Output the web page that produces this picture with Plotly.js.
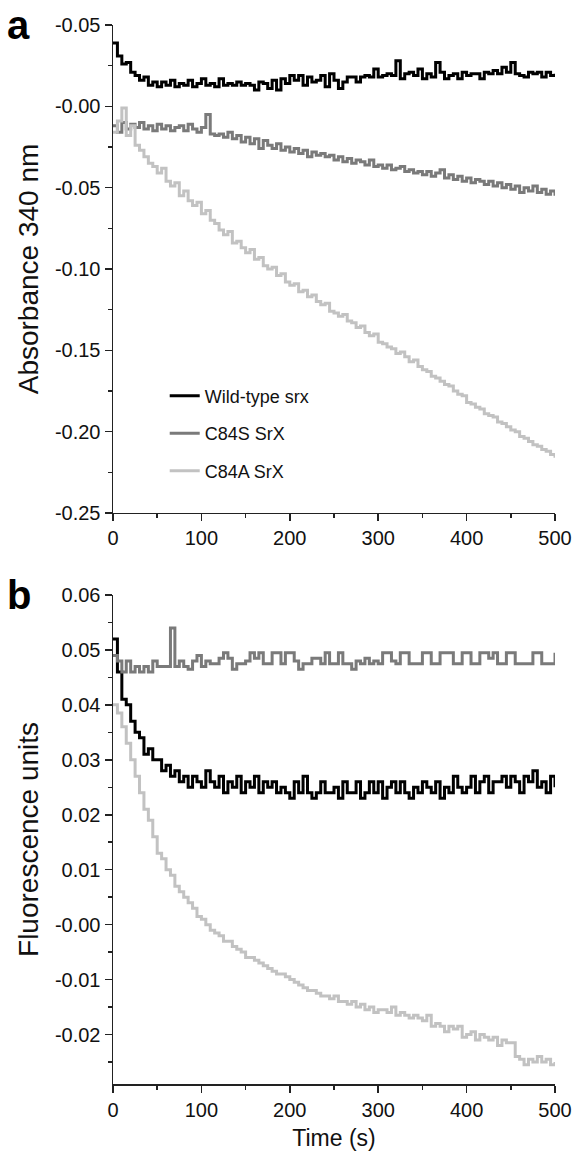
<!DOCTYPE html>
<html>
<head>
<meta charset="utf-8">
<script src="https://cdn.plot.ly/plotly-3.0.1.min.js"></script>
<style>
html,body{margin:0;padding:0;background:#fff;}
#chart{width:574px;height:1157px;}
</style>
</head>
<body>
<div id="chart"></div>
<script>
// Time (s)
const time = [0,5,10,15,20,25,30,35,40,45,50,55,60,65,70,75,80,85,90,95,
100,105,110,115,120,125,130,135,140,145,150,155,160,165,170,175,180,185,190,195,
200,205,210,215,220,225,230,235,240,245,250,255,260,265,270,275,280,285,290,295,
300,305,310,315,320,325,330,335,340,345,350,355,360,365,370,375,380,385,390,395,
400,405,410,415,420,425,430,435,440,445,450,455,460,465,470,475,480,485,490,495,500];

const seriesNames = ["Wild-type srx", "C84S SrX", "C84A SrX"];

// Panel a: Absorbance 340 nm
const wtA = [0.039,0.031,0.026,0.027,0.021,0.019,0.016,0.018,0.013,0.015,
0.012,0.015,0.013,0.016,0.012,0.014,0.013,0.016,0.012,0.014,
0.017,0.013,0.014,0.012,0.017,0.013,0.014,0.013,0.015,0.013,
0.014,0.013,0.010,0.015,0.014,0.011,0.016,0.010,0.017,0.014,
0.019,0.016,0.019,0.013,0.018,0.015,0.016,0.019,0.012,0.020,
0.016,0.011,0.015,0.018,0.018,0.015,0.018,0.019,0.018,0.023,
0.018,0.019,0.020,0.019,0.028,0.017,0.020,0.021,0.019,0.023,
0.017,0.020,0.018,0.027,0.021,0.017,0.019,0.020,0.017,0.021,
0.019,0.020,0.020,0.017,0.021,0.020,0.022,0.020,0.024,0.021,
0.027,0.020,0.019,0.018,0.021,0.020,0.021,0.018,0.021,0.019,0.020];

const c84sA = [-0.012,-0.016,-0.010,-0.014,-0.011,-0.013,-0.010,-0.014,-0.012,-0.015,
-0.011,-0.014,-0.012,-0.015,-0.013,-0.012,-0.015,-0.011,-0.014,-0.016,
-0.013,-0.005,-0.017,-0.018,-0.017,-0.019,-0.016,-0.020,-0.018,-0.022,
-0.019,-0.023,-0.020,-0.026,-0.021,-0.024,-0.026,-0.023,-0.027,-0.025,
-0.028,-0.026,-0.029,-0.027,-0.031,-0.028,-0.030,-0.029,-0.031,-0.030,
-0.033,-0.031,-0.034,-0.032,-0.035,-0.033,-0.034,-0.036,-0.033,-0.037,
-0.036,-0.038,-0.036,-0.039,-0.038,-0.037,-0.040,-0.039,-0.041,-0.040,
-0.042,-0.040,-0.043,-0.041,-0.039,-0.044,-0.042,-0.045,-0.043,-0.046,
-0.044,-0.047,-0.045,-0.046,-0.048,-0.046,-0.049,-0.047,-0.050,-0.048,
-0.051,-0.049,-0.053,-0.050,-0.052,-0.049,-0.053,-0.051,-0.054,-0.052,-0.055];

const c84aA = [-0.016,-0.009,-0.001,-0.018,-0.012,-0.024,-0.027,-0.031,-0.035,-0.037,
-0.041,-0.038,-0.046,-0.049,-0.047,-0.055,-0.052,-0.058,-0.061,-0.059,
-0.066,-0.064,-0.070,-0.072,-0.076,-0.079,-0.077,-0.084,-0.083,-0.087,
-0.090,-0.088,-0.094,-0.093,-0.098,-0.100,-0.099,-0.104,-0.103,-0.108,
-0.110,-0.109,-0.114,-0.113,-0.117,-0.116,-0.120,-0.122,-0.121,-0.126,
-0.127,-0.129,-0.128,-0.132,-0.133,-0.136,-0.135,-0.139,-0.141,-0.140,
-0.145,-0.146,-0.148,-0.149,-0.152,-0.151,-0.154,-0.157,-0.156,-0.160,
-0.162,-0.163,-0.166,-0.167,-0.169,-0.171,-0.172,-0.175,-0.177,-0.178,
-0.182,-0.183,-0.185,-0.186,-0.189,-0.190,-0.191,-0.194,-0.195,-0.197,
-0.199,-0.200,-0.203,-0.204,-0.206,-0.208,-0.209,-0.211,-0.212,-0.214,-0.216];

// Panel b: Fluorescence units
const wtB = [0.052,0.046,0.041,0.040,0.037,0.035,0.034,0.031,0.032,0.030,
0.030,0.028,0.029,0.027,0.028,0.026,0.027,0.025,0.027,0.026,
0.025,0.028,0.026,0.025,0.027,0.024,0.026,0.025,0.027,0.024,
0.026,0.025,0.027,0.024,0.026,0.025,0.026,0.024,0.025,0.024,
0.023,0.026,0.024,0.027,0.024,0.023,0.024,0.026,0.024,0.024,
0.025,0.023,0.026,0.024,0.024,0.026,0.023,0.024,0.026,0.024,
0.026,0.023,0.025,0.026,0.024,0.026,0.024,0.023,0.025,0.024,
0.026,0.025,0.024,0.026,0.023,0.025,0.024,0.027,0.025,0.024,
0.025,0.027,0.024,0.026,0.027,0.024,0.026,0.026,0.027,0.025,
0.027,0.026,0.024,0.027,0.026,0.028,0.025,0.026,0.024,0.027,0.025];

const c84sB = [0.049,0.048,0.046,0.048,0.046,0.047,0.046,0.047,0.046,0.048,
0.047,0.047,0.047,0.054,0.047,0.048,0.047,0.0465,0.048,0.049,
0.047,0.048,0.0475,0.0475,0.0485,0.0495,0.0485,0.0465,0.0475,0.0475,
0.048,0.0495,0.0485,0.0495,0.0475,0.0475,0.0495,0.0495,0.0475,0.0495,
0.0495,0.048,0.0465,0.0475,0.0475,0.0485,0.0485,0.0475,0.0495,0.0475,
0.0475,0.0495,0.0475,0.0475,0.0465,0.048,0.0475,0.0485,0.0475,0.048,
0.0475,0.0495,0.0495,0.048,0.0475,0.0495,0.0495,0.0475,0.0475,0.0475,
0.0495,0.0495,0.0475,0.0475,0.0495,0.0495,0.0495,0.0475,0.0475,0.0495,
0.0495,0.0475,0.0475,0.0495,0.0495,0.0485,0.0495,0.0475,0.0475,0.0495,
0.0495,0.0475,0.0475,0.0475,0.0475,0.0495,0.0495,0.0475,0.0475,0.0475,0.0495];

const c84aB = [0.040,0.0385,0.036,0.033,0.030,0.027,0.024,0.021,0.019,0.016,
0.013,0.012,0.010,0.009,0.007,0.006,0.005,0.004,0.003,0.0015,
0.001,0.000,-0.001,-0.0015,-0.002,-0.003,-0.003,-0.004,-0.0045,-0.005,
-0.006,-0.006,-0.0065,-0.007,-0.0075,-0.008,-0.0085,-0.009,-0.009,-0.0095,
-0.010,-0.0105,-0.011,-0.0115,-0.012,-0.012,-0.0125,-0.013,-0.013,-0.0135,
-0.013,-0.014,-0.014,-0.0145,-0.014,-0.015,-0.0145,-0.0155,-0.015,-0.016,
-0.0155,-0.0155,-0.016,-0.015,-0.0165,-0.016,-0.0165,-0.017,-0.0165,-0.017,
-0.0175,-0.0165,-0.0185,-0.018,-0.0185,-0.0195,-0.0185,-0.019,-0.0185,-0.0205,
-0.020,-0.0195,-0.021,-0.020,-0.0205,-0.021,-0.0205,-0.022,-0.021,-0.0215,
-0.0215,-0.024,-0.0245,-0.0255,-0.0245,-0.025,-0.024,-0.025,-0.0245,-0.0255,-0.025];

// Tick labels
const xTickVals = [0,100,200,300,400,500];
const yTickValsA = [0.05,0,-0.05,-0.10,-0.15,-0.20,-0.25];
const yTickTextA = ["-0.05","-0.00","-0.05","-0.10","-0.15","-0.20","-0.25"];
const yTickValsB = [0.06,0.05,0.04,0.03,0.02,0.01,0,-0.01,-0.02];
const yTickTextB = ["0.06","0.05","0.04","0.03","0.02","0.01","-0.00","-0.01","-0.02"];

const colors = ["#000000","#7a7a7a","#c2c2c2"];
const FONT = "Liberation Sans, Arial, Helvetica, sans-serif";

const dataA = [wtA, c84sA, c84aA];
const dataB = [wtB, c84sB, c84aB];
const traces = [];
dataA.forEach((ys, i) => {
  traces.push({
    x: time, y: ys, type: "scatter", mode: "lines",
    name: seriesNames[i], legendgroup: "g" + i,
    line: {color: colors[i], width: 3, shape: "hv"},
    xaxis: "x", yaxis: "y", showlegend: true
  });
});
dataB.forEach((ys, i) => {
  traces.push({
    x: time, y: ys, type: "scatter", mode: "lines",
    name: seriesNames[i], legendgroup: "g" + i,
    line: {color: colors[i], width: 3, shape: "hv"},
    xaxis: "x2", yaxis: "y2", showlegend: false
  });
});

const axisCommon = {
  showgrid: false, zeroline: false, showline: true,
  linecolor: "#222", linewidth: 1.5,
  ticks: "outside", ticklen: 7, tickwidth: 1.5, tickcolor: "#222",
  tickfont: {family: FONT, size: 20, color: "#111"},
  mirror: false
};

const layout = {
  width: 574, height: 1157,
  paper_bgcolor: "#fff", plot_bgcolor: "#fff",
  margin: {l: 113, r: 19, t: 25, b: 73},
  font: {family: FONT, color: "#111"},
  showlegend: true,
  legend: {
    x: 0.117, y: 0.667, xanchor: "left", yanchor: "top",
    bgcolor: "rgba(0,0,0,0)", borderwidth: 0,
    font: {family: FONT, size: 18, color: "#111"},
    tracegroupgap: 11, itemwidth: 30
  },
  xaxis: Object.assign({}, axisCommon, {
    domain: [0, 1], anchor: "y", range: [0, 500],
    tickmode: "array", tickvals: xTickVals,
    minor: {ticks: "outside", ticklen: 4, tickwidth: 1.5, tickcolor: "#222", tickmode: "linear", tick0: 50, dtick: 100}
  }),
  yaxis: Object.assign({}, axisCommon, {
    domain: [0.5392, 1], anchor: "x", range: [-0.25, 0.05],
    tickmode: "array", tickvals: yTickValsA, ticktext: yTickTextA,
    minor: {ticks: "outside", ticklen: 4, tickwidth: 1.5, tickcolor: "#222", tickmode: "linear", tick0: 0.025, dtick: 0.05},
    title: {text: "Absorbance 340 nm", font: {family: FONT, size: 28, color: "#111"}, standoff: 8}
  }),
  xaxis2: Object.assign({}, axisCommon, {
    domain: [0, 1], anchor: "y2", range: [0, 500],
    tickmode: "array", tickvals: xTickVals,
    minor: {ticks: "outside", ticklen: 4, tickwidth: 1.5, tickcolor: "#222", tickmode: "linear", tick0: 50, dtick: 100},
    title: {text: "Time (s)", font: {family: FONT, size: 23, color: "#111"}, standoff: 10}
  }),
  yaxis2: Object.assign({}, axisCommon, {
    domain: [0, 0.4618], anchor: "x2", range: [-0.029, 0.06],
    tickmode: "array", tickvals: yTickValsB, ticktext: yTickTextB,
    minor: {ticks: "outside", ticklen: 4, tickwidth: 1.5, tickcolor: "#222", tickmode: "linear", tick0: 0.005, dtick: 0.01},
    title: {text: "Fluorescence units", font: {family: FONT, size: 28, color: "#111"}, standoff: 8}
  }),
  annotations: [
    {text: "<b>a</b>", xref: "paper", yref: "paper", x: -0.245, y: 1.0, xanchor: "left", yanchor: "middle",
     showarrow: false, font: {family: FONT, size: 40, color: "#000"}},
    {text: "<b>b</b>", xref: "paper", yref: "paper", x: -0.245, y: 0.4618, xanchor: "left", yanchor: "middle",
     showarrow: false, font: {family: FONT, size: 40, color: "#000"}}
  ]
};

Plotly.newPlot("chart", traces, layout, {displayModeBar: false, staticPlot: true});
</script>
</body>
</html>
